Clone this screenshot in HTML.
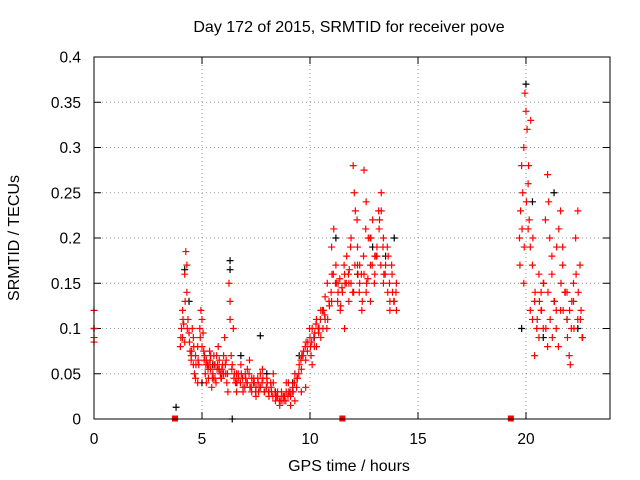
<!DOCTYPE html>
<html><head><meta charset="utf-8"><style>
body{margin:0;background:#fff;}
svg{display:block;font-family:"Liberation Sans",sans-serif;}
</style></head><body>
<svg id="chart" width="640" height="480">
<text x="349" y="32" font-size="16" text-anchor="middle">Day 172 of 2015, SRMTID for receiver pove</text>
<text x="349" y="471" font-size="16" text-anchor="middle">GPS time / hours</text>
<text transform="translate(19,238) rotate(-90)" font-size="16" text-anchor="middle">SRMTID / TECUs</text>
<g id="grid"></g>
<g id="ticks"></g>
<g id="black"></g>
<g id="red"></g>
<rect x="94" y="57" width="516" height="362" fill="none" stroke="#000" stroke-width="1"/>
</svg>
<script>
const xTicks=[0,5,10,15,20];
const yTicks=[0,0.05,0.1,0.15,0.2,0.25,0.3,0.35,0.4];
const yTickLabels=["0","0.05","0.1","0.15","0.2","0.25","0.3","0.35","0.4"];
const redT=[0,0,0,0,4.0,4.05,4.1,4.1,4.15,4.2,4.2,4.25,4.3,4.3,4.35,4.4,4.45,4.5,4.5,4.55,4.6,4.6,4.65,4.7,4.7,4.8,4.8,4.85,4.9,4.95,5.0,5.0,5.05,5.1,5.15,5.2,5.25,5.3,5.35,5.4,5.45,5.5,5.55,5.6,5.65,5.7,5.75,5.8,5.85,5.9,5.95,6.0,6.05,6.1,6.15,6.2,6.25,6.3,6.3,6.35,6.4,6.45,6.5,6.55,6.6,6.7,6.8,6.9,7.0,7.1,7.2,7.3,7.4,7.5,7.6,7.7,7.8,7.9,8.0,8.1,8.2,8.3,8.4,8.5,8.6,8.7,8.8,8.9,9.0,9.1,9.2,9.3,9.4,9.5,9.6,9.7,9.8,9.9,10.0,10.05,10.1,10.2,10.3,10.4,10.5,10.6,10.7,10.8,10.9,11.0,11.1,11.2,11.3,11.4,11.5,11.6,11.7,11.8,11.9,12.0,12.05,12.1,12.2,12.3,12.4,12.5,12.6,12.7,12.8,12.9,13.0,13.1,13.2,13.3,13.4,13.5,13.6,13.7,13.8,13.9,14.0,
5.2,5.4,5.6,5.8,6.0,6.6,6.9,7.1,7.3,7.5,7.7,8.1,8.3,8.5,8.7,8.9,9.1,9.3,9.6,9.8,10.1,10.3,10.5,10.7,11.0,11.3,11.6,11.9,12.2,12.5,12.8,13.1,13.4,13.7,14.0,12.6,13.0,13.3,11.8,12.3,
4.02,4.12,4.22,4.32,4.42,4.52,4.62,4.72,4.82,4.92,5.08,5.18,5.28,5.38,5.48,5.58,5.68,5.78,5.88,5.98,6.08,6.18,6.38,6.48,6.58,6.68,6.78,6.88,6.98,7.08,7.18,7.28,7.38,7.48,7.58,7.68,7.78,7.88,7.98,8.08,8.18,8.28,8.38,8.48,8.58,8.68,8.78,8.88,8.98,9.08,9.18,9.28,9.38,9.48,9.58,9.68,9.78,9.88,9.98,10.08,10.18,10.28,10.38,10.48,10.58,10.68,10.78,10.88,10.98,11.08,11.18,11.28,11.38,11.48,11.58,11.68,11.78,11.88,11.98,12.08,12.18,12.28,12.38,12.48,12.58,12.68,12.78,12.88,12.98,13.08,13.18,13.28,13.38,13.48,13.58,13.68,13.78,13.88,13.98,
5.12,5.32,5.52,5.72,5.92,6.12,6.62,6.82,7.02,7.22,7.42,7.62,7.82,8.02,8.22,8.42,8.62,8.82,9.02,9.22,9.42,9.62,9.82,10.02,10.22,10.42,10.62,10.82,11.02,11.22,11.42,11.62,11.82,12.02,12.22,12.42,12.62,12.82,13.02,13.22,13.42,13.62,13.82,
19.7,19.75,19.8,19.85,19.9,19.95,20.0,20.05,20.1,20.15,20.2,20.3,20.4,20.5,20.6,20.7,20.8,20.9,21.0,21.05,21.1,21.2,21.3,21.4,21.5,21.6,21.7,21.8,21.9,22.0,22.05,22.1,22.2,22.3,22.4,22.5,22.55,22.6,19.9,20.2,20.4,20.6,20.8,21.2,21.6,22.2,20.3,20.7,21.0,21.4,21.9,22.4,20.1,21.7,
19.72,19.82,19.92,20.02,20.12,20.22,20.32,20.42,20.52,20.62,20.72,20.82,20.92,21.02,21.12,21.22,21.32,21.42,21.52,21.62,21.72,21.82,21.92,22.02,22.12,22.22,22.32,22.42,22.52,22.62];
const redV=[0.12,0.09,0.085,0.1,0.08,0.1,0.12,0.09,0.105,0.085,0.16,0.185,0.17,0.14,0.11,0.095,0.075,0.07,0.065,0.1,0.09,0.06,0.05,0.07,0.045,0.04,0.08,0.06,0.1,0.12,0.11,0.08,0.095,0.065,0.05,0.04,0.06,0.045,0.075,0.055,0.035,0.05,0.07,0.06,0.04,0.055,0.08,0.065,0.05,0.045,0.06,0.07,0.09,0.05,0.04,0.03,0.15,0.13,0.11,0.07,0.06,0.1,0.05,0.04,0.03,0.045,0.06,0.035,0.05,0.04,0.065,0.03,0.045,0.025,0.04,0.035,0.055,0.03,0.045,0.025,0.035,0.05,0.02,0.03,0.015,0.025,0.02,0.03,0.04,0.025,0.035,0.05,0.045,0.06,0.055,0.075,0.065,0.085,0.09,0.07,0.1,0.08,0.11,0.095,0.12,0.1,0.135,0.15,0.125,0.19,0.21,0.17,0.15,0.12,0.14,0.16,0.18,0.13,0.2,0.28,0.25,0.23,0.19,0.15,0.12,0.275,0.24,0.2,0.17,0.22,0.16,0.19,0.21,0.25,0.2,0.17,0.14,0.12,0.16,0.13,0.15,
0.065,0.07,0.045,0.055,0.05,0.05,0.03,0.055,0.045,0.035,0.05,0.03,0.04,0.025,0.02,0.04,0.015,0.02,0.03,0.035,0.06,0.08,0.09,0.11,0.13,0.14,0.1,0.15,0.17,0.16,0.13,0.18,0.15,0.13,0.12,0.14,0.18,0.23,0.15,0.17,
0.09,0.11,0.13,0.1,0.085,0.075,0.08,0.06,0.065,0.09,0.075,0.06,0.055,0.065,0.045,0.06,0.07,0.055,0.045,0.05,0.06,0.05,0.055,0.045,0.04,0.05,0.04,0.045,0.035,0.04,0.05,0.035,0.04,0.03,0.045,0.035,0.04,0.03,0.035,0.03,0.04,0.025,0.03,0.025,0.02,0.03,0.025,0.02,0.025,0.03,0.03,0.04,0.035,0.05,0.065,0.07,0.08,0.075,0.1,0.085,0.09,0.105,0.1,0.11,0.12,0.115,0.1,0.13,0.14,0.16,0.15,0.13,0.155,0.145,0.17,0.15,0.16,0.19,0.14,0.17,0.22,0.14,0.16,0.18,0.21,0.155,0.2,0.17,0.15,0.18,0.23,0.17,0.19,0.16,0.19,0.15,0.17,0.13,0.14,
0.07,0.06,0.045,0.06,0.055,0.065,0.04,0.05,0.045,0.035,0.04,0.03,0.045,0.04,0.03,0.025,0.02,0.025,0.03,0.03,0.045,0.07,0.085,0.08,0.095,0.1,0.12,0.11,0.16,0.15,0.125,0.15,0.165,0.14,0.16,0.13,0.15,0.2,0.18,0.22,0.16,0.18,0.14,
0.2,0.23,0.28,0.25,0.3,0.36,0.34,0.32,0.26,0.22,0.19,0.17,0.13,0.1,0.09,0.12,0.15,0.22,0.27,0.24,0.2,0.16,0.13,0.1,0.08,0.23,0.19,0.14,0.11,0.07,0.06,0.1,0.15,0.2,0.23,0.17,0.12,0.09,0.15,0.12,0.07,0.16,0.1,0.18,0.12,0.13,0.11,0.14,0.08,0.12,0.14,0.11,0.21,0.17,
0.17,0.21,0.19,0.24,0.28,0.33,0.2,0.14,0.11,0.13,0.12,0.15,0.1,0.14,0.11,0.09,0.13,0.19,0.21,0.15,0.12,0.14,0.09,0.12,0.13,0.1,0.16,0.14,0.11,0.09,0.12,0.08,0.13,0.1,0.18,0.11,0.2,0.15,0.11,0.1];
const blackT=[0,3.8,4.2,4.4,5.0,5.5,6.3,6.3,6.8,7.7,8.4,9.2,10.2,11.2,12.2,12.9,13.5,13.9,19.8,20.0,20.3,20.8,21.3,21.9,22.4,6.4,8.0,9.5];
const blackV=[0.1,0.013,0.165,0.13,0.04,0.06,0.175,0.165,0.07,0.092,0.03,0.04,0.09,0.2,0.16,0.19,0.18,0.2,0.1,0.37,0.24,0.09,0.25,0.11,0.1,0.0,0.05,0.07];
const squareT=[3.75,11.5,19.3];
const squareV=[0,0,0];
const NS="http://www.w3.org/2000/svg";
const X0=94,PW=516,XMAX=23.89,Y0=419,PH=362,YMAX=0.4;
function sx(t){return X0+t/XMAX*PW;}
function sy(v){return Y0-v/YMAX*PH;}
function mk(tag,attrs,parent){const e=document.createElementNS(NS,tag);for(const k in attrs)e.setAttribute(k,attrs[k]);parent.appendChild(e);return e;}
const grid=document.getElementById('grid'),ticks=document.getElementById('ticks');
xTicks.forEach((t,i)=>{
  const x=sx(t);
  if(t>0){const g=mk('line',{x1:x,x2:x,y1:57,y2:419,stroke:'#999','stroke-dasharray':'1,3'},grid);
  
  }
  mk('line',{x1:x,x2:x,y1:419,y2:412,stroke:'#000'},ticks);
  mk('line',{x1:x,x2:x,y1:57,y2:64,stroke:'#000'},ticks);
  const l=mk('text',{x:x,y:444,'font-size':15.5,'text-anchor':'middle'},ticks);
  l.textContent=String(t);
  
  
});
yTicks.forEach((v,i)=>{
  const y=sy(v);
  if(v>0&&v<0.4){const g=mk('line',{x1:94,x2:610,y1:y,y2:y,stroke:'#999','stroke-dasharray':'1,3'},grid);
  
  }
  mk('line',{x1:94,x2:101,y1:y,y2:y,stroke:'#000'},ticks);
  mk('line',{x1:603,x2:610,y1:y,y2:y,stroke:'#000'},ticks);
  const l=mk('text',{x:81,y:y+5.5,'font-size':15.5,'text-anchor':'end'},ticks);
  l.textContent=yTickLabels[i];
  
  
});
function plus(g,t,v,col){
  const x=sx(t),y=sy(v);
  const p=mk('path',{d:`M${x-3.5},${y}h7M${x},${y-3.5}v7`,stroke:col,'stroke-width':1.2,fill:'none'},g);
  
  
}
const bg=document.getElementById('black'),rg=document.getElementById('red');
blackT.forEach((t,i)=>plus(bg,t,blackV[i],'#000'));
redT.forEach((t,i)=>plus(rg,t,redV[i],'#f00'));
squareT.forEach((t,i)=>{
  const r=mk('rect',{x:sx(t)-3,y:sy(squareV[i])-3.5,width:6,height:6,fill:'#f00'},rg);
  
  
});
</script>
</body></html>
